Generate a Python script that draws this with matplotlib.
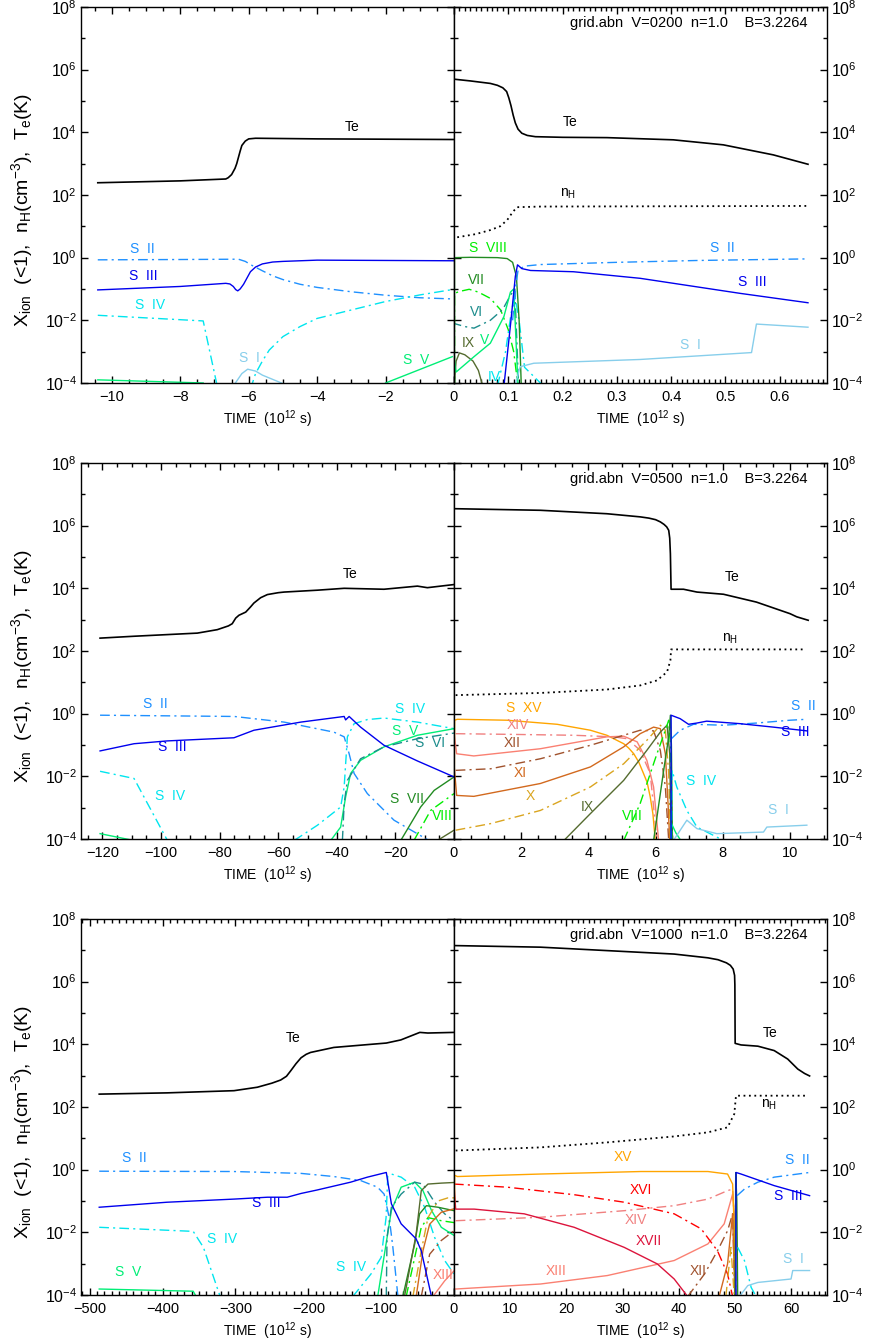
import numpy as np
import matplotlib
matplotlib.use('Agg')
from matplotlib import pyplot as plt
from matplotlib.ticker import FixedLocator, MultipleLocator, NullFormatter, FuncFormatter

# ---- data: time in 1e12 s, lg = log10 of value ----
# row 1 (V=0200), pre-shock side
r1l_te_t = [-10.41, -8.0, -6.67, -6.6, -6.5, -6.4, -6.35, -6.3, -6.25, -6.2, -6.1, -6.0, -5.8, -4.0, -2.0, 0.0]
r1l_te_lg = [2.39, 2.45, 2.51, 2.55, 2.65, 2.85, 3.0, 3.2, 3.4, 3.58, 3.72, 3.79, 3.81, 3.79, 3.78, 3.77]
r1l_s2_t = [-10.41, -8.0, -6.3, -6.1, -5.9, -5.6, -5.3, -5.0, -4.5, -4.0, -3.0, -2.0, -1.0, 0.0]
r1l_s2_lg = [-0.07, -0.06, -0.05, -0.12, -0.25, -0.42, -0.58, -0.7, -0.85, -0.95, -1.09, -1.2, -1.28, -1.32]
r1l_s3_t = [-10.41, -8.0, -6.67, -6.55, -6.45, -6.38, -6.32, -6.25, -6.15, -6.05, -5.95, -5.8, -5.6, -5.3, -5.0, -4.0, 0.0]
r1l_s3_lg = [-1.03, -0.92, -0.82, -0.84, -0.92, -1.02, -1.06, -1.0, -0.85, -0.65, -0.45, -0.3, -0.2, -0.14, -0.12, -0.08, -0.1]
r1l_s4a_t = [-10.41, -7.33, -6.9]
r1l_s4a_lg = [-1.84, -2.02, -4.2]
r1l_s4b_t = [-5.95, -5.8, -5.6, -5.4, -5.0, -4.5, -4.0, -3.0, -2.0, -1.0, 0.0]
r1l_s4b_lg = [-4.2, -3.7, -3.3, -2.95, -2.52, -2.2, -1.94, -1.67, -1.4, -1.19, -1.01]
r1l_s5a_t = [-10.41, -7.33]
r1l_s5a_lg = [-3.9, -4.0]
r1l_s5b_t = [-2.0, -0.05]
r1l_s5b_lg = [-4.0, -3.16]
r1l_s1_t = [-6.42, -6.2, -6.03, -5.8, -5.6, -5.0]
r1l_s1_lg = [-4.05, -3.7, -3.56, -3.62, -3.75, -4.02]

# row 1, post-shock side
r1r_te_t = [0.003, 0.03, 0.067, 0.08, 0.09, 0.097, 0.101, 0.105, 0.109, 0.113, 0.118, 0.125, 0.135, 0.15,
            0.2, 0.282, 0.404, 0.496, 0.588, 0.652]
r1r_te_lg = [5.69, 5.64, 5.56, 5.5, 5.42, 5.3, 5.1, 4.85, 4.55, 4.3, 4.1, 3.97, 3.9, 3.86,
             3.84, 3.83, 3.76, 3.60, 3.28, 2.98]
r1r_nh_t = [0.006, 0.04, 0.067, 0.085, 0.098, 0.108, 0.116, 0.159, 0.652]
r1r_nh_lg = [0.65, 0.75, 0.88, 1.0, 1.2, 1.45, 1.61, 1.63, 1.65]
r1r_s1_t = [0.112, 0.122, 0.147, 0.343, 0.548, 0.557, 0.652]
r1r_s1_lg = [-4.1, -3.48, -3.37, -3.25, -3.03, -2.12, -2.22]
r1r_s2_t = [0.108, 0.114, 0.118, 0.13, 0.16, 0.3, 0.45, 0.652]
r1r_s2_lg = [-2.0, -0.9, -0.4, -0.27, -0.22, -0.15, -0.09, -0.04]
r1r_s3_t = [0.092, 0.105, 0.113, 0.117, 0.125, 0.141, 0.22, 0.343, 0.527, 0.652]
r1r_s3_lg = [-4.1, -2.0, -0.6, -0.23, -0.35, -0.41, -0.45, -0.66, -1.14, -1.44]
r1r_s4_t = [0.08, 0.095, 0.105, 0.112, 0.12, 0.13, 0.165]
r1r_s4_lg = [-4.1, -3.0, -1.8, -1.2, -2.0, -3.5, -4.1]
r1r_s5_t = [0.0, 0.004, 0.037, 0.067, 0.092, 0.104, 0.11, 0.118]
r1r_s5_lg = [-3.2, -3.65, -3.16, -2.73, -1.88, -1.1, -1.0, -4.1]
r1r_s6_t = [0.0, 0.0, 0.02, 0.037, 0.067, 0.09, 0.104, 0.112, 0.119]
r1r_s6_lg = [-4.1, -2.1, -2.2, -2.25, -2.0, -1.65, -1.2, -1.0, -4.1]
r1r_s7_t = [0.001, 0.001, 0.03, 0.08, 0.098, 0.108, 0.115, 0.12, 0.124]
r1r_s7_lg = [-4.1, 0.0, 0.01, 0.0, -0.03, -0.15, -0.6, -2.0, -4.1]
r1r_s8_t = [0.001, 0.001, 0.01, 0.028, 0.045, 0.067, 0.086, 0.1, 0.11, 0.118]
r1r_s8_lg = [-4.1, -1.14, -1.08, -1.01, -1.1, -1.3, -1.67, -2.3, -3.0, -4.1]
r1r_s9_t = [0.0, 0.004, 0.01, 0.02, 0.035, 0.045, 0.053]
r1r_s9_lg = [-4.1, -3.3, -3.04, -3.1, -3.3, -3.6, -4.1]

# row 2 (V=0500), pre-shock side
r2l_te_t = [-120.8, -109.2, -87.6, -80.8, -77.0, -75.7, -74.5, -73.4, -71.1, -69.5, -68.3, -66.0, -63.7,
            -60.0, -58.0, -46.6, -37.5, -23.9, -12.5, -9.1, 0.0]
r2l_te_lg = [2.41, 2.47, 2.57, 2.68, 2.8, 2.87, 3.05, 3.14, 3.24, 3.4, 3.53, 3.7, 3.8,
             3.86, 3.88, 3.94, 4.00, 3.97, 4.07, 4.02, 4.12]
r2l_s2_t = [-120.8, -75.0, -58.0, -41.0, -37.5, -35.8, -34.1, -29.6, -20.5, -9.1]
r2l_s2_lg = [-0.05, -0.09, -0.27, -0.59, -0.74, -1.28, -1.91, -2.55, -3.4, -4.02]
r2l_s3_t = [-120.8, -109.2, -97.8, -75.1, -68.3, -52.3, -37.5, -37.0, -35.8, -31.9, -23.9, -12.5, 0.0]
r2l_s3_lg = [-1.19, -0.96, -0.87, -0.77, -0.53, -0.27, -0.09, -0.2, -0.09, -0.43, -1.01, -1.51, -2.02]
r2l_s4a_t = [-120.8, -109.2, -97.8]
r2l_s4a_lg = [-1.84, -2.07, -4.05]
r2l_s4b_t = [-54.6, -46.6, -38.7, -37.5, -36.4, -34.1, -29.6, -23.9, -12.5, 0.0]
r2l_s4b_lg = [-4.05, -3.56, -2.98, -2.34, -0.74, -0.32, -0.19, -0.14, -0.27, -0.48]
r2l_s5a_t = [-120.8, -109.2]
r2l_s5a_lg = [-3.83, -4.05]
r2l_s5b_t = [-42.1, -38.7, -37.0, -35.3, -31.9, -23.9, -12.5, 0.0]
r2l_s5b_lg = [-4.05, -3.62, -2.66, -1.91, -1.49, -1.06, -0.69, -0.48]
r2l_s6_t = [-38.1, -37.5, -36.4, -31.9, -23.9, -12.5, 0.0]
r2l_s6_lg = [-4.05, -2.87, -2.13, -1.44, -1.06, -0.80, -0.62]
r2l_s7_t = [-18.2, -11.4, -6.8, 0.0]
r2l_s7_lg = [-4.05, -2.98, -2.45, -2.02]
r2l_s8_t = [-13.7, -8.0, 0.0]
r2l_s8_lg = [-4.05, -3.09, -2.55]
r2l_s9_t = [-5.7, 0.0]
r2l_s9_lg = [-4.05, -3.72]

# row 2, post-shock side
r2r_te_t = [0.05, 2.57, 4.55, 5.54, 5.8, 6.0, 6.14, 6.25, 6.33, 6.39, 6.42, 6.44, 6.46, 6.83, 7.23, 8.02,
            9.0, 10.0, 10.2, 10.54]
r2r_te_lg = [6.54, 6.49, 6.38, 6.28, 6.24, 6.19, 6.12, 6.04, 5.96, 5.85, 5.6, 5.1, 3.97, 3.97, 3.88, 3.81,
             3.56, 3.19, 3.09, 2.98]
r2r_nh_t = [0.05, 2.57, 4.55, 5.54, 6.04, 6.34, 6.44, 6.46, 10.45]
r2r_nh_lg = [0.59, 0.66, 0.77, 0.90, 1.06, 1.33, 1.70, 2.05, 2.05]
r2r_s1_t = [6.53, 6.93, 7.23, 7.82, 9.21, 9.31, 10.5]
r2r_s1_lg = [-4.05, -3.40, -3.67, -3.83, -3.78, -3.62, -3.56]
r2r_s2_t = [6.47, 6.73, 7.13, 8.02, 9.0, 10.0, 10.5]
r2r_s2_lg = [-0.80, -0.53, -0.34, -0.37, -0.30, -0.21, -0.18]
r2r_s3_t = [6.46, 6.46, 6.73, 6.98, 7.23, 7.52, 8.51, 9.5, 10.5]
r2r_s3_lg = [-4.05, -0.05, -0.16, -0.34, -0.30, -0.24, -0.32, -0.43, -0.55]
r2r_s4_t = [6.47, 6.49, 6.63, 6.93, 7.23, 7.62, 8.02]
r2r_s4_lg = [-4.05, -1.81, -2.34, -3.09, -3.62, -3.83, -4.05]
r2r_s5_t = [6.45, 6.47, 6.6, 6.75]
r2r_s5_lg = [-4.05, -3.5, -3.8, -4.05]
r2r_s7_t = [5.94, 6.24, 6.39, 6.44, 6.47, 6.5]
r2r_s7_lg = [-4.05, -1.81, -0.74, -0.05, -1.0, -4.05]
r2r_s8_t = [5.05, 5.54, 6.04, 6.29, 6.39, 6.44, 6.47]
r2r_s8_lg = [-4.05, -2.87, -1.28, -0.53, -0.21, -1.0, -4.05]
r2r_s9_t = [3.27, 4.06, 5.05, 5.74, 6.14, 6.34, 6.42, 6.46]
r2r_s9_lg = [-4.05, -3.19, -2.13, -1.17, -0.59, -0.37, -1.28, -4.05]
r2r_s10_t = [0.05, 1.09, 2.57, 4.06, 5.05, 5.74, 6.14, 6.29, 6.39, 6.44]
r2r_s10_lg = [-3.72, -3.51, -3.09, -2.34, -1.60, -0.85, -0.37, -0.53, -1.91, -4.05]
r2r_s11_t = [0.0, 0.08, 0.59, 2.57, 4.06, 5.05, 5.54, 5.94, 6.14, 6.29, 6.37, 6.42]
r2r_s11_lg = [-1.6, -2.61, -2.64, -2.23, -1.70, -1.06, -0.64, -0.43, -0.48, -1.28, -2.87, -4.05]
r2r_s12_t = [0.05, 1.09, 2.57, 4.06, 5.05, 5.54, 5.94, 6.14, 6.29, 6.39]
r2r_s12_lg = [-1.81, -1.76, -1.44, -1.01, -0.69, -0.53, -0.55, -1.17, -2.34, -4.05]
r2r_s13_t = [0.0, 0.08, 0.59, 2.57, 4.55, 5.05, 5.45, 5.74, 5.94, 6.09]
r2r_s13_lg = [-0.6, -1.28, -1.35, -1.12, -0.74, -0.72, -0.90, -1.49, -2.34, -4.05]
r2r_s14_t = [0.05, 1.58, 3.56, 4.75, 5.15, 5.54, 5.84, 6.04]
r2r_s14_lg = [-0.64, -0.66, -0.69, -0.74, -0.80, -1.17, -1.91, -4.05]
r2r_s15_t = [0.0, 0.02, 0.1, 1.58, 3.07, 4.06, 4.55, 5.05, 5.2, 5.35, 5.5, 5.64, 5.75, 5.84, 5.92, 5.99]
r2r_s15_lg = [-4.05, -0.21, -0.18, -0.21, -0.34, -0.53, -0.69, -0.96, -1.1, -1.28, -1.55, -1.91, -2.2, -2.66, -3.2, -4.05]

# row 3 (V=1000), pre-shock side
r3l_te_t = [-487, -394, -302, -270, -250, -238, -230, -224, -217, -210, -203, -197, -185, -165, -119, -93, -73,
            -60, -47, -36, 0]
r3l_te_lg = [2.41, 2.45, 2.52, 2.63, 2.76, 2.86, 2.98, 3.16, 3.38, 3.57, 3.68, 3.74, 3.8, 3.90, 3.99, 4.04, 4.14,
             4.26, 4.38, 4.36, 4.38]
r3l_s2_t = [-487, -302, -210, -165, -128, -105, -96, -89, -84, -77]
r3l_s2_lg = [-0.05, -0.06, -0.12, -0.22, -0.35, -0.56, -0.78, -1.53, -2.47, -4.05]
r3l_s3_t = [-487, -394, -302, -256, -229, -210, -188, -142, -119, -93, -86, -72.6, -52, -45, -31]
r3l_s3_lg = [-1.20, -1.04, -0.94, -0.88, -0.88, -0.76, -0.65, -0.40, -0.24, -0.09, -1.09, -1.73, -2.21, -2.59, -4.05]
r3l_s4a_t = [-487, -358, -344, -321]
r3l_s4a_lg = [-1.84, -1.97, -2.48, -4.05]
r3l_s4b_t = [-139, -114, -100, -93.3, -91, -86, -72.6, -54, -40.4, -26.7, -12.9, 0]
r3l_s4b_lg = [-4.05, -3.33, -2.8, -1.53, -0.2, -0.14, -0.24, -0.56, -1.2, -2.16, -2.9, -3.33]
r3l_s5a_t = [-487, -358, -354]
r3l_s5a_lg = [-3.81, -3.88, -4.05]
r3l_s5b_t = [-104.8, -93.3, -86, -72.6, -54, -42.7, -31, -17.5, 0]
r3l_s5b_lg = [-4.05, -2.37, -1.3, -0.56, -0.4, -0.67, -1.3, -1.84, -2.1]
r3l_s6_t = [-93, -92, -86, -72.6, -54, -42.7, -26.7, -12.9, 0]
r3l_s6_lg = [-4.05, -2.16, -1.2, -0.78, -0.4, -0.46, -1.04, -1.41, -1.63]
r3l_s7_t = [-70.3, -54, -47.3, -38, -22, 0]
r3l_s7_lg = [-4.05, -2.37, -1.41, -1.15, -1.2, -1.31]
r3l_s8_t = [-65.7, -52, -45, -35.8, -17.5, 0]
r3l_s8_lg = [-4.05, -2.59, -1.84, -1.53, -1.63, -1.69]
r3l_s9_t = [-68, -52, -45, -35.8, -17.5, 0]
r3l_s9_lg = [-4.05, -2.05, -0.67, -0.46, -0.43, -0.41]
r3l_s10_t = [-56.5, -45, -35.8, -22, -8.3, 0]
r3l_s10_lg = [-4.05, -2.59, -1.53, -1.0, -0.9, -0.9]
r3l_s11_t = [-52, -42.7, -33.5, -17.5, 0]
r3l_s11_lg = [-4.05, -2.59, -1.74, -1.36, -1.25]
r3l_s12_t = [-45, -33.5, -17.5, 0]
r3l_s12_lg = [-4.05, -2.7, -2.26, -1.95]
r3l_s13_t = [-29, -12.9, 0]
r3l_s13_lg = [-4.05, -3.55, -3.23]

# row 3, post-shock side
r3r_te_t = [0.3, 15.4, 27.3, 39.2, 45.2, 47.0, 48.5, 49.2, 49.7, 49.95, 50.0, 50.05, 51.1, 54.1, 57.0, 59.4,
            61.2, 62.4, 63.3]
r3r_te_lg = [7.15, 7.10, 6.99, 6.88, 6.76, 6.7, 6.6, 6.52, 6.4, 6.2, 5.9, 4.03, 3.98, 3.94, 3.80, 3.53,
             3.21, 3.07, 2.99]
r3r_nh_t = [0.3, 15.4, 27.3, 39.2, 45.2, 48.7, 49.9, 50.2, 62.7]
r3r_nh_lg = [0.61, 0.71, 0.87, 1.06, 1.19, 1.35, 1.78, 2.36, 2.36]
r3r_s1_t = [50.8, 52.3, 54.1, 60.0, 60.3, 63.3]
r3r_s1_lg = [-4.05, -3.70, -3.60, -3.49, -3.22, -3.22]
r3r_s2_t = [50.4, 51.7, 54.1, 57.0, 63.3]
r3r_s2_lg = [-0.83, -0.62, -0.40, -0.24, -0.09]
r3r_s3_t = [50.2, 50.2, 51.1, 57.0, 63.3]
r3r_s3_lg = [-4.05, -0.09, -0.14, -0.51, -0.83]
r3r_s4_t = [50.5, 51.7, 52.9, 53.8]
r3r_s4_lg = [-2.48, -2.9, -3.76, -4.05]
r3r_s7_t = [50.05, 50.15, 50.35, 50.5]
r3r_s7_lg = [-4.05, -0.1, -1.0, -4.05]
r3r_s10_t = [48.4, 49.3, 49.9]
r3r_s10_lg = [-4.05, -2.48, -4.05]
r3r_s11_t = [47.2, 48.7, 49.6, 50.0]
r3r_s11_lg = [-4.05, -3.01, -1.41, -4.05]
r3r_s12_t = [41.6, 44.6, 46.9, 48.7, 49.6, 50.0]
r3r_s12_lg = [-4.05, -3.33, -2.59, -1.95, -1.41, -4.05]
r3r_s13_t = [0.3, 15.4, 27.3, 39.2, 45.2, 48.1, 49.6, 49.9, 50.1]
r3r_s13_lg = [-3.81, -3.65, -3.38, -2.90, -2.37, -1.73, -0.78, -1.4, -4.05]
r3r_s14_t = [0.3, 15.4, 30.3, 39.2, 45.2, 48.7, 49.6, 50.0, 50.2]
r3r_s14_lg = [-1.63, -1.52, -1.31, -1.15, -0.94, -0.67, -0.62, -1.95, -4.05]
r3r_s15_t = [0.0, 0.12, 0.6, 15.4, 33.3, 45.2, 48.7, 49.6, 49.9, 50.1]
r3r_s15_lg = [-4.05, -0.18, -0.22, -0.14, -0.06, -0.06, -0.14, -0.46, -1.95, -4.05]
r3r_s16_t = [0.0, 9.5, 21.4, 30.3, 39.2, 44.0, 46.9, 48.7, 49.6]
r3r_s16_lg = [-0.46, -0.56, -0.80, -1.04, -1.41, -1.89, -2.59, -3.33, -4.05]
r3r_s17_t = [0.0, 0.0, 0.3, 3.6, 12.5, 21.4, 30.3, 36.2, 39.2, 41.6]
r3r_s17_lg = [-4.05, -0.46, -1.26, -1.26, -1.41, -1.84, -2.48, -3.01, -3.49, -4.05]

run_names = ['0200', '0500', '1000']

# ---- styles ----
plt.rcParams['font.family'] = ['Liberation Sans', 'DejaVu Sans']
plt.rcParams['mathtext.fontset'] = 'custom'
plt.rcParams['mathtext.rm'] = 'Liberation Sans'
plt.rcParams['mathtext.it'] = 'Liberation Sans:italic'
plt.rcParams['mathtext.bf'] = 'Liberation Sans:bold'
plt.rcParams['axes.linewidth'] = 1.0

colors = {1: '#87CEEB', 2: '#1E90FF', 3: '#0000EE', 4: '#00E5EE', 5: '#00EE76',
          6: '#1C8C8C', 7: '#228B22', 8: '#00EE00', 9: '#556B2F', 10: '#DAA520',
          11: '#D2691E', 12: '#A0522D', 13: '#FA8072', 14: '#F08080', 15: '#FFA500',
          16: '#FF0000', 17: '#DC143C', 0: 'black'}
DASHDOT = (0, (7, 3, 1.5, 3))


def draw(ax, t, lg, ion):
    ls = DASHDOT if ion % 2 == 0 and ion > 0 else '-'
    ax.plot(t, 10.0 ** np.array(lg), color=colors[ion], lw=1.0, linestyle=ls)


def te_nh(ax, t, lg, t2=None, lg2=None):
    ax.plot(t, 10.0 ** np.array(lg), color='black', lw=1.2)
    if t2 is not None:
        ax.plot(t2, 10.0 ** np.array(lg2), color='black', lw=1.3, linestyle=(0, (1, 2)))


def lab(ax, items):
    for txt, x, y, ion in items:
        ax.text(x, 10.0 ** y, txt, color=colors[ion], fontsize=10,
                ha='center', va='center')


def fmt(v, pos):
    s = '%g' % v
    return s.replace('-', '\u2212')


def fmt_left(v, pos):
    # the right panel already writes the shared 0
    if abs(v) < 1e-9:
        return ''
    return fmt(v, pos)


def setup(ax, xlim, major, minor, side):
    ax.set_yscale('log')
    ax.set_ylim(1e-4, 1e8)
    ax.set_xlim(*xlim)
    ax.yaxis.set_major_locator(FixedLocator([10.0 ** k for k in range(-4, 9, 2)]))
    ax.yaxis.set_minor_locator(FixedLocator([10.0 ** k for k in range(-3, 8, 2)]))
    ax.yaxis.set_minor_formatter(NullFormatter())
    ax.xaxis.set_major_locator(MultipleLocator(major))
    ax.xaxis.set_minor_locator(MultipleLocator(minor))
    ax.xaxis.set_major_formatter(FuncFormatter(fmt_left if side == 'left' else fmt))
    ax.tick_params(which='both', direction='in', top=True, bottom=True,
                   left=True, right=True, width=1.0)
    ax.tick_params(axis='x', labelsize=10.5)
    ax.tick_params(axis='y', labelsize=11.5)
    ax.tick_params(which='major', length=5.2)
    ax.tick_params(which='minor', length=2.7)
    ax.tick_params(axis='x', which='major', pad=5)
    ax.tick_params(axis='y', which='major', pad=3)
    if side == 'right':
        ax.tick_params(labelleft=False, labelright=True)
    else:
        ax.set_ylabel(r'X$_{\rm ion}$  (<1),  n$_{\rm H}$(cm$^{-3}$),  T$_{\rm e}$(K)',
                      fontsize=14, va='center')
        ax.yaxis.set_label_coords(-0.158, 0.46)
    ax.set_xlabel(r'TIME  (10$^{12}$ s)', fontsize=10, labelpad=3)


fig = plt.figure(figsize=(8.72, 13.4), dpi=100)
lx, rx, w, h = 0.0929, 0.5206, 0.4278, 0.2806
bottoms = [0.7142, 0.3739, 0.0336]

axL = [fig.add_axes([lx, b, w, h]) for b in bottoms]
axR = [fig.add_axes([rx, b, w, h]) for b in bottoms]

setup(axL[0], (-10.9, 0), 2, 0.5, 'left')
setup(axR[0], (0, 0.687), 0.1, 0.01, 'right')
setup(axL[1], (-127.3, 0), 20, 5, 'left')
setup(axR[1], (0, 11.1), 2, 0.5, 'right')
setup(axL[2], (-512, 0), 100, 10, 'left')
setup(axR[2], (0, 66.4), 10, 1, 'right')

# row 1
a = axL[0]
draw(a, r1l_s1_t, r1l_s1_lg, 1)
draw(a, r1l_s2_t, r1l_s2_lg, 2)
draw(a, r1l_s3_t, r1l_s3_lg, 3)
draw(a, r1l_s4a_t, r1l_s4a_lg, 4)
draw(a, r1l_s4b_t, r1l_s4b_lg, 4)
draw(a, r1l_s5a_t, r1l_s5a_lg, 5)
draw(a, r1l_s5b_t, r1l_s5b_lg, 5)
te_nh(a, r1l_te_t, r1l_te_lg)
lab(a, [('Te', -2.97, 4.17, 0), ('S  II', -9.12, 0.28, 2), ('S  III', -9.09, -0.59, 3),
        ('S  IV', -8.88, -1.51, 4), ('S  I', -5.97, -3.2, 1), ('S  V', -1.12, -3.27, 5)])

a = axR[0]
draw(a, r1r_s9_t, r1r_s9_lg, 9)
draw(a, r1r_s8_t, r1r_s8_lg, 8)
draw(a, r1r_s6_t, r1r_s6_lg, 6)
draw(a, r1r_s5_t, r1r_s5_lg, 5)
draw(a, r1r_s4_t, r1r_s4_lg, 4)
draw(a, r1r_s7_t, r1r_s7_lg, 7)
draw(a, r1r_s1_t, r1r_s1_lg, 1)
draw(a, r1r_s2_t, r1r_s2_lg, 2)
draw(a, r1r_s3_t, r1r_s3_lg, 3)
te_nh(a, r1r_te_t, r1r_te_lg, r1r_nh_t, r1r_nh_lg)
lab(a, [('Te', 0.214, 4.33, 0), (r'n$_{\rm H}$', 0.21, 2.03, 0), ('S  VIII', 0.062, 0.31, 8),
        ('VII', 0.041, -0.71, 7), ('VI', 0.041, -1.73, 6), ('IX', 0.026, -2.72, 9),
        ('V', 0.057, -2.63, 5), ('IV', 0.075, -3.8, 4), ('S  II', 0.495, 0.31, 2),
        ('S  III', 0.55, -0.78, 3), ('S  I', 0.435, -2.79, 1)])

# row 2
a = axL[1]
draw(a, r2l_s2_t, r2l_s2_lg, 2)
draw(a, r2l_s4a_t, r2l_s4a_lg, 4)
draw(a, r2l_s4b_t, r2l_s4b_lg, 4)
draw(a, r2l_s5a_t, r2l_s5a_lg, 5)
draw(a, r2l_s5b_t, r2l_s5b_lg, 5)
draw(a, r2l_s6_t, r2l_s6_lg, 6)
draw(a, r2l_s7_t, r2l_s7_lg, 7)
draw(a, r2l_s8_t, r2l_s8_lg, 8)
draw(a, r2l_s9_t, r2l_s9_lg, 9)
draw(a, r2l_s3_t, r2l_s3_lg, 3)
te_nh(a, r2l_te_t, r2l_te_lg)
lab(a, [('Te', -35.3, 4.45, 0), ('S  II', -101.8, 0.3, 2), ('S  III', -96.1, -1.06, 3),
        ('S  IV', -96.9, -2.63, 4), ('S  IV', -15.0, 0.16, 4), ('S  V', -16.7, -0.56, 5),
        ('S  VI', -8.2, -0.94, 6), ('S  VII', -16.2, -2.73, 7), ('VIII', -4.0, -3.28, 8)])

a = axR[1]
draw(a, r2r_s15_t, r2r_s15_lg, 15)
draw(a, r2r_s14_t, r2r_s14_lg, 14)
draw(a, r2r_s13_t, r2r_s13_lg, 13)
draw(a, r2r_s12_t, r2r_s12_lg, 12)
draw(a, r2r_s11_t, r2r_s11_lg, 11)
draw(a, r2r_s10_t, r2r_s10_lg, 10)
draw(a, r2r_s9_t, r2r_s9_lg, 9)
draw(a, r2r_s8_t, r2r_s8_lg, 8)
draw(a, r2r_s7_t, r2r_s7_lg, 7)
draw(a, r2r_s5_t, r2r_s5_lg, 5)
draw(a, r2r_s4_t, r2r_s4_lg, 4)
draw(a, r2r_s1_t, r2r_s1_lg, 1)
draw(a, r2r_s2_t, r2r_s2_lg, 2)
draw(a, r2r_s3_t, r2r_s3_lg, 3)
te_nh(a, r2r_te_t, r2r_te_lg, r2r_nh_t, r2r_nh_lg)
lab(a, [('Te', 8.27, 4.36, 0), (r'n$_{\rm H}$', 8.2, 2.39, 0), ('S  XV', 2.08, 0.19, 15),
        ('XIV', 1.9, -0.37, 14), ('XII', 1.73, -0.93, 12), ('XI', 1.98, -1.91, 11),
        ('X', 2.28, -2.63, 10), ('IX', 3.96, -2.98, 9), ('VIII', 5.3, -3.27, 8),
        ('S  IV', 7.35, -2.16, 4), ('S  I', 9.65, -3.09, 1), ('S  II', 10.4, 0.23, 2),
        ('S  III', 10.15, -0.59, 3)])

# row 3
a = axL[2]
draw(a, r3l_s2_t, r3l_s2_lg, 2)
draw(a, r3l_s4a_t, r3l_s4a_lg, 4)
draw(a, r3l_s4b_t, r3l_s4b_lg, 4)
draw(a, r3l_s5a_t, r3l_s5a_lg, 5)
draw(a, r3l_s5b_t, r3l_s5b_lg, 5)
draw(a, r3l_s6_t, r3l_s6_lg, 6)
draw(a, r3l_s7_t, r3l_s7_lg, 7)
draw(a, r3l_s8_t, r3l_s8_lg, 8)
draw(a, r3l_s9_t, r3l_s9_lg, 9)
draw(a, r3l_s10_t, r3l_s10_lg, 10)
draw(a, r3l_s11_t, r3l_s11_lg, 11)
draw(a, r3l_s12_t, r3l_s12_lg, 12)
draw(a, r3l_s13_t, r3l_s13_lg, 13)
draw(a, r3l_s3_t, r3l_s3_lg, 3)
te_nh(a, r3l_te_t, r3l_te_lg)
lab(a, [('Te', -221, 4.19, 0), ('S  II', -439, 0.36, 2), ('S  III', -257, -1.06, 3),
        ('S  IV', -318, -2.21, 4), ('S  V', -448, -3.28, 5), ('S  IV', -141.5, -3.12, 4),
        ('XIII', -15.2, -3.36, 13)])

a = axR[2]
draw(a, r3r_s13_t, r3r_s13_lg, 13)
draw(a, r3r_s14_t, r3r_s14_lg, 14)
draw(a, r3r_s17_t, r3r_s17_lg, 17)
draw(a, r3r_s16_t, r3r_s16_lg, 16)
draw(a, r3r_s15_t, r3r_s15_lg, 15)
draw(a, r3r_s12_t, r3r_s12_lg, 12)
draw(a, r3r_s11_t, r3r_s11_lg, 11)
draw(a, r3r_s10_t, r3r_s10_lg, 10)
draw(a, r3r_s7_t, r3r_s7_lg, 7)
draw(a, r3r_s4_t, r3r_s4_lg, 4)
draw(a, r3r_s1_t, r3r_s1_lg, 1)
draw(a, r3r_s2_t, r3r_s2_lg, 2)
draw(a, r3r_s3_t, r3r_s3_lg, 3)
te_nh(a, r3r_te_t, r3r_te_lg, r3r_nh_t, r3r_nh_lg)
lab(a, [('Te', 56.3, 4.36, 0), (r'n$_{\rm H}$', 56.1, 2.07, 0), ('XV', 30.0, 0.39, 15),
        ('XVI', 33.3, -0.64, 16), ('XIV', 32.3, -1.6, 14), ('XVII', 34.6, -2.27, 17),
        ('XIII', 18.1, -3.22, 13), ('XII', 43.4, -3.22, 12), ('S  II', 61.2, 0.32, 2),
        ('S  III', 59.6, -0.83, 3), ('S  I', 60.4, -2.85, 1)])

for a, name in zip(axR, run_names):
    a.text(0.949, 0.957, 'grid.abn  V=%s  n=1.0    B=3.2264' % name, transform=a.transAxes,
           ha='right', va='center', fontsize=10.5)

fig.savefig('out.png', dpi=100)
